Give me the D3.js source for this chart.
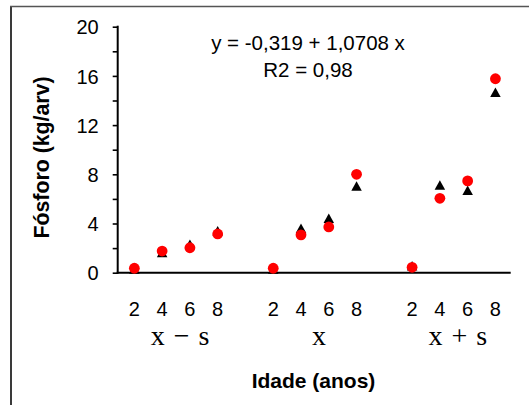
<!DOCTYPE html>
<html>
<head>
<meta charset="utf-8">
<script src="https://cdn.jsdelivr.net/npm/d3@7"></script>
<style>
  html, body { margin: 0; padding: 0; background: #fff; }
  svg { display: block; }
  text { font-family: "Liberation Sans", Arial, sans-serif; fill: #000; }
</style>
</head>
<body>
<svg id="chart" width="529" height="405"></svg>
<script>
// ---- data ----
const groups = ["x − s", "x", "x + s"];
const ages = [2, 4, 6, 8];
// red circles (observed)
const observed = [
  [0.36, 1.76, 2.03, 3.15],
  [0.36, 3.08, 3.72, 8.00],
  [0.44, 6.05, 7.46, 15.77]
];
// black triangles (estimated)
const estimated = [
  [0.30, 1.64, 2.32, 3.42],
  [0.30, 3.62, 4.42, 7.05],
  [0.56, 7.13, 6.70, 14.67]
];
const yTicks = [0, 2, 4, 6, 8, 10, 12, 14, 16, 18, 20];
const equation = "y = -0,319 + 1,0708 x";
const r2Text = "R2 = 0,98";
const xTitle = "Idade (anos)";
const yTitle = "Fósforo (kg/arv)";

// ---- layout ----
const svg = d3.select("#chart");
const plotLeft = 117.7, plotRight = 510.7, plotTop = 26.7, plotBottom = 272.7;

const x = d3.scaleLinear().domain([-0.6, 13.55]).range([plotLeft, plotRight]);
const y = d3.scaleLinear().domain([0, 20]).range([plotBottom, plotTop]);
const pos = (g, a) => g * (ages.length + 1) + a;

// frame
svg.append("line").attr("x1", 11).attr("y1", 6).attr("x2", 11).attr("y2", 410)
  .attr("stroke", "#3a3a3a").attr("stroke-width", 2);
svg.append("line").attr("x1", 10).attr("y1", 6.5).attr("x2", 540).attr("y2", 6.5)
  .attr("stroke", "#555").attr("stroke-width", 1.3);

// y axis
const yAxis = d3.axisLeft(y).tickValues(yTicks).tickSize(5).tickPadding(14)
  .tickFormat(d => d % 4 === 0 ? d : "");
const gy = svg.append("g").attr("transform", `translate(${plotLeft},0)`).call(yAxis);
gy.select(".domain").remove();
gy.selectAll(".tick line").attr("stroke", "#000").attr("stroke-width", 1.6);
gy.selectAll(".tick text").attr("font-size", 20).attr("font-family", "Liberation Sans, Arial, sans-serif")
  .attr("dy", "0.36em").attr("fill", "#000");
svg.append("line").attr("x1", plotLeft).attr("x2", plotLeft).attr("y1", y(20) - 1).attr("y2", y(0) + 1)
  .attr("stroke", "#000").attr("stroke-width", 2);

// x axis line
svg.append("line").attr("x1", plotLeft - 1).attr("x2", plotRight).attr("y1", y(0)).attr("y2", y(0))
  .attr("stroke", "#000").attr("stroke-width", 2);

// x tick labels and group labels
groups.forEach((g, gi) => {
  ages.forEach((a, ai) => {
    svg.append("text").attr("x", x(pos(gi, ai))).attr("y", 315.5)
      .attr("text-anchor", "middle").attr("font-size", 20).text(a);
  });
  const cx = (x(pos(gi, 0)) + x(pos(gi, ages.length - 1))) / 2 + 4;
  svg.append("text").attr("x", cx).attr("y", 344.5)
    .attr("text-anchor", "middle")
    .style("font-family", "'Liberation Serif', 'Times New Roman', serif")
    .style("word-spacing", "2px")
    .attr("font-size", 28).text(g);
});

// triangles
function triPath(cx, cy) {
  const w = 10.5, h = 9.5;
  return `M${cx},${cy - h / 2}L${cx + w / 2},${cy + h / 2}L${cx - w / 2},${cy + h / 2}Z`;
}
estimated.forEach((vals, gi) => {
  svg.selectAll(null).data(vals).enter().append("path")
    .attr("d", (v, ai) => triPath(x(pos(gi, ai)), y(v)))
    .attr("fill", "#000");
});
// circles
observed.forEach((vals, gi) => {
  svg.selectAll(null).data(vals).enter().append("circle")
    .attr("cx", (v, ai) => x(pos(gi, ai))).attr("cy", v => y(v))
    .attr("r", 5.4).attr("fill", "#ff0000");
});

// equation
svg.append("text").attr("x", 308).attr("y", 49.5).attr("text-anchor", "middle")
  .attr("font-size", 20.5).text(equation);
svg.append("text").attr("x", 308).attr("y", 77).attr("text-anchor", "middle")
  .attr("font-size", 20.5).text(r2Text);

// titles
svg.append("text").attr("x", 313.5).attr("y", 387.5).attr("text-anchor", "middle")
  .attr("font-size", 21).attr("font-weight", "bold").text(xTitle);
svg.append("text").attr("transform", "translate(49,157.5) rotate(-90)")
  .attr("text-anchor", "middle").attr("font-size", 21.3).attr("font-weight", "bold").text(yTitle);
</script>
</body>
</html>
